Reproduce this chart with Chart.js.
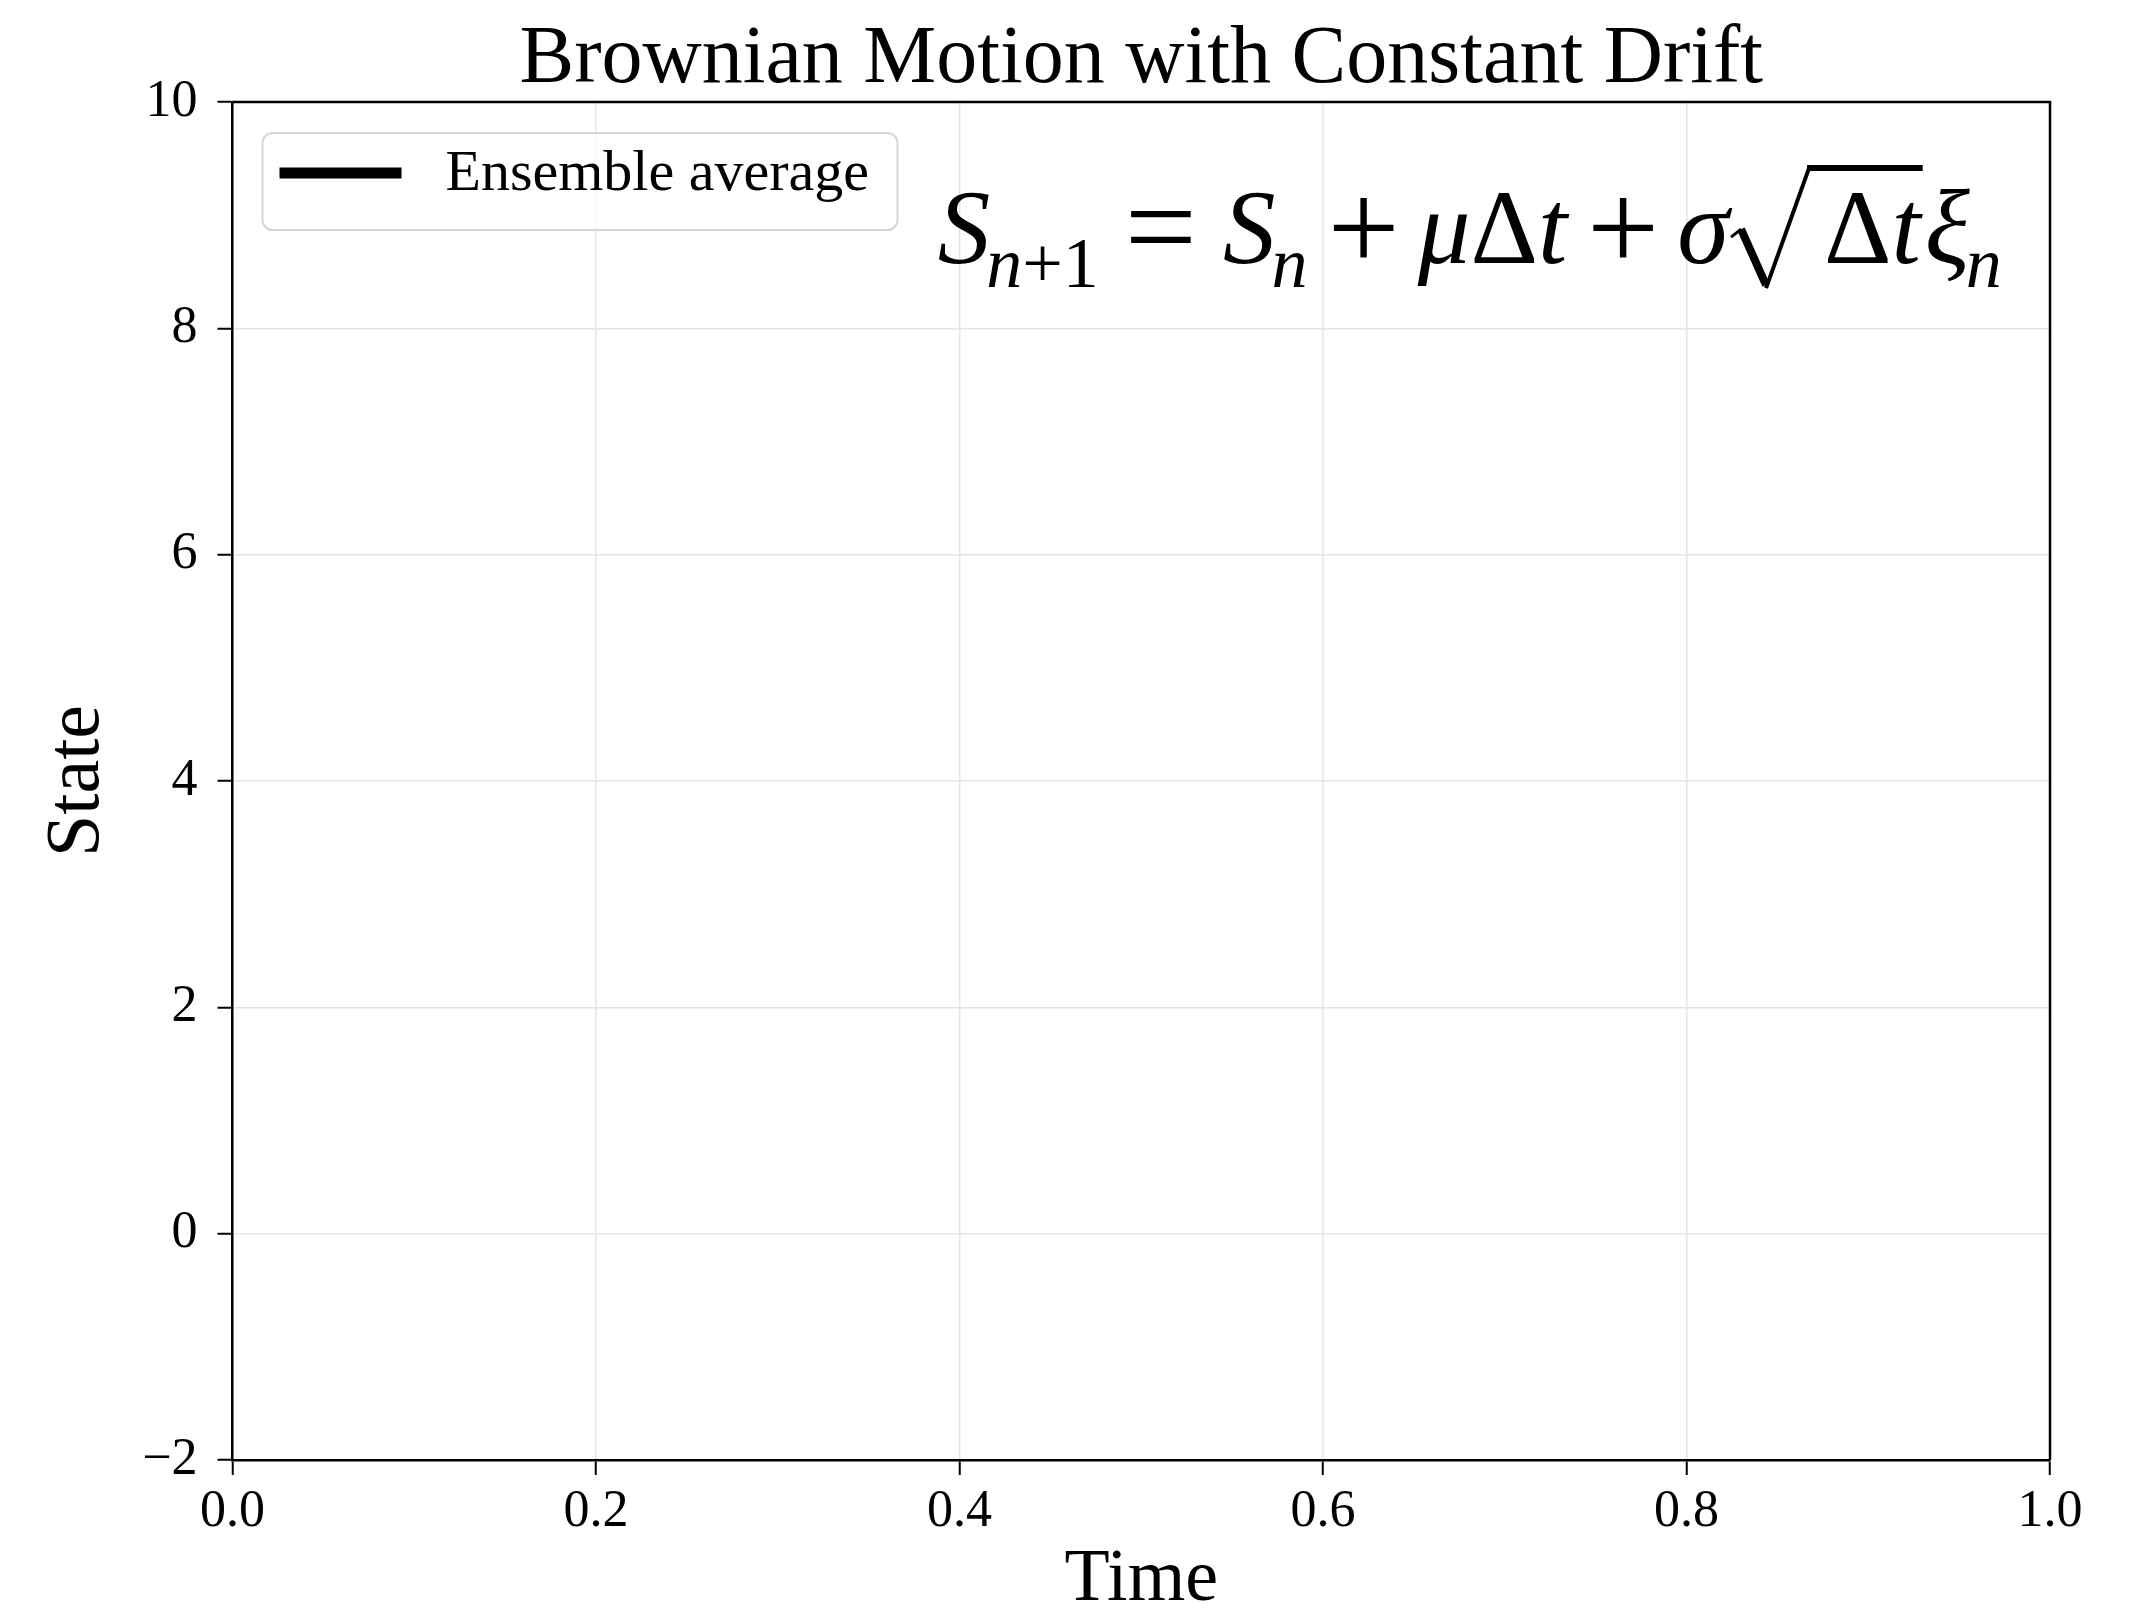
<!DOCTYPE html>
<html>
<head>
<meta charset="utf-8">
<script src="https://cdn.jsdelivr.net/npm/chart.js@4/dist/chart.umd.min.js"></script>
<style>
  html, body { margin: 0; padding: 0; background: #fff; }
  canvas { display: block; }
</style>
</head>
<body>
<canvas id="bmChart" width="2132" height="1608"></canvas>
<script>
// data: the ensemble average was never drawn in this frame, so the series is empty
const times = [];
const ensembleAverage = [];
const xTicks = [0.0, 0.2, 0.4, 0.6, 0.8, 1.0];
const yTicks = [-2, 0, 2, 4, 6, 8, 10];
const seriesLabel = "Ensemble average";

const SERIF = "'Liberation Serif', 'Times New Roman', serif";

// top + right spines (matplotlib style box)
const framePlugin = {
  id: "frame",
  afterDraw(chart) {
    const { ctx, chartArea: a } = chart;
    ctx.save();
    ctx.strokeStyle = "#000";
    ctx.lineWidth = 2.5;
    ctx.beginPath();
    ctx.moveTo(a.left, a.top);
    ctx.lineTo(a.right, a.top);
    ctx.lineTo(a.right, a.bottom);
    ctx.stroke();
    ctx.restore();
  },
};

// legend box in the upper left corner of the axes
const boxLegendPlugin = {
  id: "boxLegend",
  afterDraw(chart) {
    const { ctx, chartArea: a } = chart;
    const ds = chart.data.datasets[0];
    const x = a.left + 30, y = a.top + 31, w = 635, h = 97, r = 10;
    ctx.save();
    ctx.fillStyle = "rgba(255,255,255,0.8)";
    ctx.strokeStyle = "#d6d6d6";
    ctx.lineWidth = 2;
    ctx.beginPath();
    ctx.roundRect(x, y, w, h, r);
    ctx.fill();
    ctx.stroke();

    ctx.strokeStyle = ds.borderColor;
    ctx.lineWidth = 11;
    ctx.beginPath();
    ctx.moveTo(x + 17, y + 40);
    ctx.lineTo(x + 139, y + 40);
    ctx.stroke();

    ctx.fillStyle = "#000";
    ctx.font = "58px " + SERIF;
    ctx.textBaseline = "middle";
    ctx.fillText(ds.label, x + 183, y + 42);
    ctx.restore();
  },
};

// S_{n+1} = S_n + mu dt + sigma sqrt(dt) xi_n
const formulaPlugin = {
  id: "formula",
  afterDraw(chart) {
    const { ctx, chartArea: a } = chart;
    const F = 105, s = 72, drop = 24, OP = 128;
    let x = a.left + 0.388 * (a.right - a.left);
    const base = a.top + 0.1186 * (a.bottom - a.top);

    const put = (txt, size, italic, dy) => {
      ctx.font = (italic ? "italic " : "") + size + "px " + SERIF;
      ctx.fillText(txt, x, base + (dy || 0));
      x += ctx.measureText(txt).width;
    };

    ctx.save();
    ctx.fillStyle = "#000";
    ctx.textBaseline = "alphabetic";

    put("S", F, true);
    x -= 4;
    put("n", s, true, drop);
    put("+1", s, false, drop);
    x += 26;
    put("=", OP, false, 6);
    x += 26;
    put("S", F, true);
    x -= 4;
    put("n", s, true, drop);
    x += 20;
    put("+", OP, false, 7);
    x += 18;
    put("\u03bc", F, true);
    put("\u0394", F, false);
    put("t", F, true);
    x += 20;
    put("+", OP, false, 7);
    x += 18;
    put("\u03c3", F, true);

    // radical sign
    const rx = x;
    ctx.strokeStyle = "#000";
    ctx.lineCap = "butt";
    ctx.lineWidth = 3;
    ctx.beginPath();
    ctx.moveTo(rx + 2, base - 26);
    ctx.lineTo(rx + 12, base - 34);
    ctx.stroke();
    ctx.lineWidth = 8;
    ctx.beginPath();
    ctx.moveTo(rx + 12, base - 34);
    ctx.lineTo(rx + 37, base + 22);
    ctx.stroke();
    ctx.lineWidth = 4;
    ctx.beginPath();
    ctx.moveTo(rx + 37, base + 25);
    ctx.lineTo(rx + 80, base - 95);
    ctx.stroke();
    x = rx + 95;
    put("\u0394", F, false);
    put("t", F, true);
    ctx.lineWidth = 6;
    ctx.beginPath();
    ctx.moveTo(rx + 78, base - 95);
    ctx.lineTo(x + 2, base - 95);
    ctx.stroke();
    x += 4;
    put("\u03be", F, true);
    x -= 4;
    put("n", s, true, drop);
    ctx.restore();
  },
};

const tickFont = { family: SERIF, size: 52 };
const minus = v => (v < 0 ? "\u2212" + Math.abs(v) : String(v));

new Chart("bmChart", {
  type: "line",
  data: {
    datasets: [
      {
        label: seriesLabel,
        data: times.map((t, i) => ({ x: t, y: ensembleAverage[i] })),
        borderColor: "#000",
        borderWidth: 11,
        pointRadius: 0,
      },
    ],
  },
  options: {
    responsive: false,
    devicePixelRatio: 1,
    animation: false,
    layout: { padding: { top: 0, right: 82, bottom: 0, left: 0 } },
    plugins: {
      legend: { display: false },
      tooltip: { enabled: false },
      title: {
        display: true,
        fullSize: false,
        text: "Brownian Motion with Constant Drift",
        color: "#000",
        font: { family: SERIF, size: 82, weight: "normal", lineHeight: 1 },
        padding: { top: 19, bottom: 1 },
      },
    },
    scales: {
      x: {
        type: "linear",
        min: 0,
        max: 1,
        afterBuildTicks: sc => { sc.ticks = xTicks.map(v => ({ value: v })); },
        afterFit: sc => { sc.height = 148; },
        ticks: {
          color: "#000",
          font: tickFont,
          padding: 6,
          maxRotation: 0,
          callback: v => v.toFixed(1),
        },
        grid: {
          color: "#e4e4e4",
          lineWidth: 1.5,
          tickColor: "#000",
          tickWidth: 2,
          tickLength: 15,
        },
        border: { color: "#000", width: 2.5 },
        title: {
          display: true,
          text: "Time",
          color: "#000",
          font: { family: SERIF, size: 74, lineHeight: 0.75 },
          padding: { top: 0, bottom: 0 },
        },
      },
      y: {
        type: "linear",
        min: -2,
        max: 10,
        afterBuildTicks: sc => { sc.ticks = yTicks.map(v => ({ value: v })); },
        afterFit: sc => { sc.width = 232.5; },
        ticks: {
          color: "#000",
          font: tickFont,
          padding: 20,
          callback: minus,
        },
        grid: {
          color: "#e4e4e4",
          lineWidth: 1.5,
          tickColor: "#000",
          tickWidth: 2,
          tickLength: 15,
        },
        border: { color: "#000", width: 2.5 },
        title: {
          display: true,
          text: "State",
          color: "#000",
          font: { family: SERIF, size: 76, lineHeight: 1 },
          padding: { top: 40, bottom: 0 },
        },
      },
    },
  },
  plugins: [framePlugin, boxLegendPlugin, formulaPlugin],
});
</script>
</body>
</html>
